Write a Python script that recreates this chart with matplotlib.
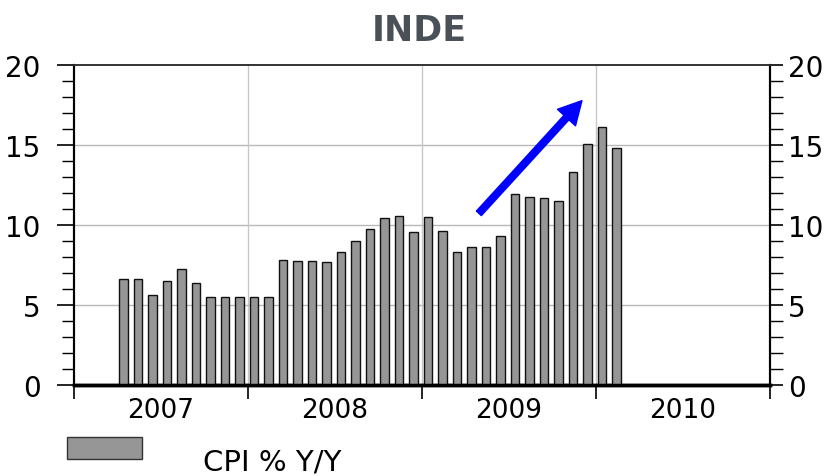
import matplotlib
matplotlib.use("Agg")
import matplotlib.pyplot as plt
import numpy as np
import pandas as pd
from matplotlib.patches import Rectangle, FancyArrowPatch
from matplotlib.ticker import FixedLocator, MultipleLocator, NullFormatter

plt.rcParams['font.family'] = ['DejaVu Sans']

# ---- data ----
start_month = "2007-04"
cpi_yoy = [6.63, 6.63, 5.65, 6.49, 7.26, 6.40, 5.48, 5.48, 5.48,
           5.48, 5.48, 7.84, 7.76, 7.76, 7.70, 8.34, 8.99, 9.78, 10.43, 10.59, 9.55,
           10.53, 9.63, 8.34, 8.65, 8.65, 9.30, 11.91, 11.72, 11.66, 11.49, 13.33, 15.06,
           16.12, 14.81]
year_labels = ["2007", "2008", "2009", "2010"]
title = "INDE"
series_name = "CPI % Y/Y"

periods = pd.period_range(start_month, periods=len(cpi_yoy), freq="M")
x = np.array([p.year + (p.month - 0.58) / 12 for p in periods])
years = [int(y) for y in year_labels]

fig = plt.figure(figsize=(8.25, 4.77), dpi=100)
ax = fig.add_axes([74/825, 1-386/477, (770-74)/825, (386-66)/477])

bar_w = 0.6 / 12
ax.bar(x, cpi_yoy, width=bar_w, color="#969696", edgecolor="#111111", linewidth=1.0, zorder=3)

ax.set_xlim(years[0], years[-1] + 1)
ax.set_ylim(0, 20)

# grid
for yv in [5, 10, 15]:
    ax.axhline(yv, color="#b8b8b8", lw=1.0, zorder=1)
for xv in years[1:]:
    ax.axvline(xv, color="#c8c8c8", lw=1.0, zorder=1)

# x ticks: major at year boundaries, labels at mid-year
ax.xaxis.set_major_locator(FixedLocator(years + [years[-1] + 1]))
ax.xaxis.set_major_formatter(NullFormatter())
ax.xaxis.set_minor_locator(FixedLocator([y + 0.5 for y in years]))
ax.set_xticklabels(year_labels, minor=True)
ax.tick_params(axis="x", which="major", length=10, width=1.2, direction="out", color="black")
ax.tick_params(axis="x", which="minor", length=0, pad=9, labelsize=19)

# y ticks left
ax.yaxis.set_major_locator(MultipleLocator(5))
ax.yaxis.set_minor_locator(MultipleLocator(1))
ax.tick_params(axis="y", which="major", length=12, width=1.2, direction="out", labelsize=20, pad=12)
ax.tick_params(axis="y", which="minor", length=9, width=1.0, direction="out")

# right axis
ax2 = ax.twinx()
ax2.set_ylim(0, 20)
ax2.yaxis.set_major_locator(MultipleLocator(5))
ax2.yaxis.set_minor_locator(MultipleLocator(1))
ax2.tick_params(axis="y", which="major", length=9, width=1.2, direction="out", labelsize=20, pad=4)
ax2.tick_params(axis="y", which="minor", length=9, width=1.0, direction="out")
for a in (ax, ax2):
    a.spines["left"].set_linewidth(1.5)
    a.spines["right"].set_linewidth(1.5)
    a.spines["bottom"].set_linewidth(2.5)
    a.spines["top"].set_linewidth(1.2)
    a.spines["top"].set_color("#333333")
ax2.set_xlim(ax.get_xlim())

# arrow
arrow = FancyArrowPatch((2009.316, 10.6), (2009.93, 17.9),
                        arrowstyle="simple,tail_width=0.22,head_width=0.8,head_length=0.75",
                        mutation_scale=22, color="#0000ff", zorder=5)
ax.add_patch(arrow)

# title
fig.text(0.508, 1-31/477, title, ha="center", va="center", fontsize=25,
         fontweight="bold", color="#4a5057")

# legend (manual)
fig.patches.append(Rectangle((67/825, 1-460/477), 75/825, 22/477, transform=fig.transFigure,
                             facecolor="#969696", edgecolor="#333333", lw=1.0))
fig.text(203/825, 1-463/477, series_name, ha="left", va="center", fontsize=21)

fig.savefig("out.png", dpi=100)
